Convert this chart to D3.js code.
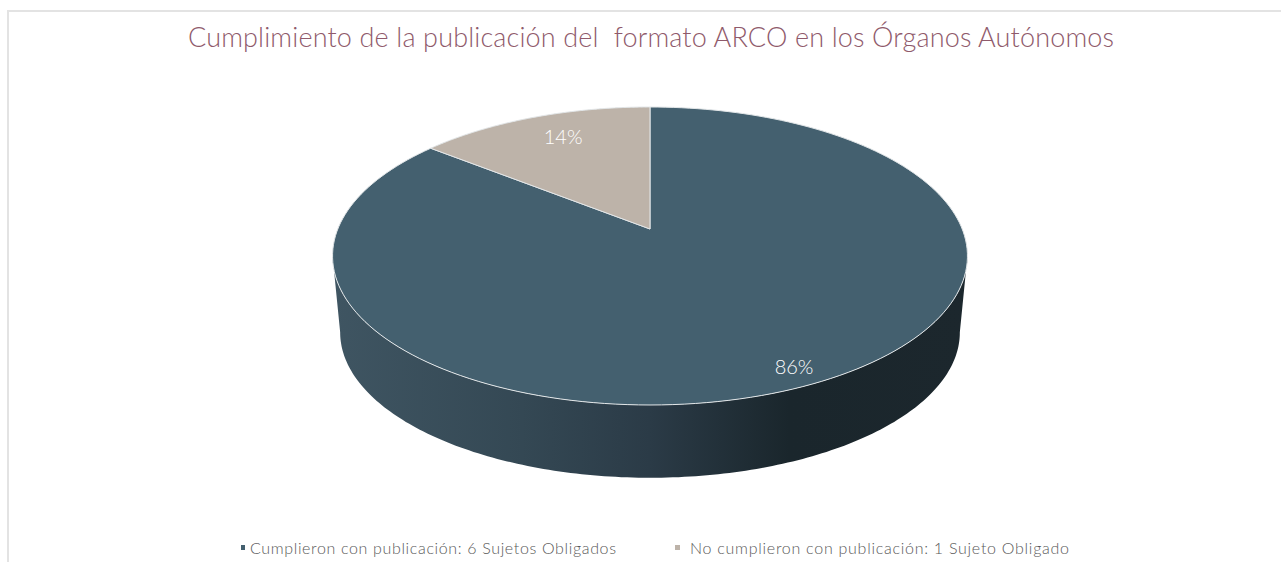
<!DOCTYPE html>
<html lang="es"><head><meta charset="utf-8">
<script src="https://cdnjs.cloudflare.com/ajax/libs/d3/7.8.5/d3.min.js"></script>
<style>html,body{margin:0;padding:0;background:#fff}svg{display:block}text{white-space:pre;font-family:"Lato","Open Sans",sans-serif}</style>
</head><body><svg id="c" width="1281" height="562"></svg>
<script>
const chartTitle = "Cumplimiento de la publicación del  formato ARCO en los Órganos Autónomos";
const categories = ["Cumplieron con publicación: 6 Sujetos Obligados", "No cumplieron con publicación: 1 Sujeto Obligado"];
const values = [6, 1];
const colors = ["#44606f", "#bdb3a9"];

const svg = d3.select("#c");
const W = 1281, persp = 0.1812;
const cx = 650, cy = 229, kx = 312.2, ky = 144.1;
const sx = d3.scaleLinear().domain([-1, 1]).range([cx - kx, cx + kx]);
const sy = d3.scaleLinear().domain([-1, 1]).range([cy - ky, cy + ky]);
// Perspective projection of a point on the disc (angle clockwise from 12 o'clock)
function project(a, r = 1, scale = 1, dy = 0) {
  const x = Math.sin(a) * r, y = -Math.cos(a) * r, s = scale / (1 - persp * y);
  return [sx(x * s), sy(y * s) + dy];
}
const pie = d3.pie().sort(null).value(d => d)(values);
const line = d3.line();
const arcPts = (a0, a1, ...rest) => d3.range(0, 181).map(i => project(a0 + (a1 - a0) * i / 180, 1, ...rest));

// frame
svg.append("path").attr("d", `M8,562V11H${W}`).attr("fill", "none").attr("stroke", "#e3e3e3").attr("stroke-width", 2);

// title
svg.append("text").attr("x", 651).attr("y", 47).attr("text-anchor", "middle")
  .attr("font-size", 27).attr("fill", "#8f5a6b").attr("textLength", 926).attr("lengthAdjust", "spacing")
  .attr("font-weight", 300).text(chartTitle);

// side wall, between the silhouette tangent points of the projected disc
const grad = svg.append("defs").append("linearGradient").attr("id", "side")
  .attr("gradientUnits", "userSpaceOnUse").attr("x1", 332).attr("x2", 967).attr("y1", 0).attr("y2", 0);
[[0, "#3f5562"], [0.3, "#344854"], [0.5, "#2b3b47"], [0.72, "#1a262c"], [1, "#1c272d"]]
  .forEach(([o, c]) => grad.append("stop").attr("offset", o).attr("stop-color", c));
const depthScale = 0.976, depthDy = 77;
const tangent = Math.asin(persp);
const frontStart = 0.5 * Math.PI + tangent, frontEnd = 1.5 * Math.PI - tangent;
const rimTop = arcPts(frontStart, frontEnd);
const rimLow = arcPts(frontStart, frontEnd, depthScale, depthDy).reverse();
svg.append("path").attr("d", line(rimTop.concat(rimLow)) + "Z").attr("fill", "url(#side)");

// top face
const seg = d => {
  const n = 180, pts = [project(0, 0)];
  d3.range(0, n + 1).forEach(i => pts.push(project(d.startAngle + (d.endAngle - d.startAngle) * i / n)));
  return line(pts) + "Z";
};
svg.append("g").selectAll("path").data(pie).join("path")
  .attr("d", seg).attr("fill", (d, i) => colors[i])
  .attr("stroke", "#e2e6e8").attr("stroke-width", 1).attr("stroke-linejoin", "round");

// data labels
const total = d3.sum(values);
const labelR = [0.906, 0.80], labelDx = [0, 9];
svg.append("g").selectAll("text").data(pie).join("text")
  .each(function (d, i) {
    const p = project((d.startAngle + d.endAngle) / 2, labelR[i]);
    d3.select(this).attr("x", p[0] + labelDx[i]).attr("y", p[1] + 7);
  })
  .attr("text-anchor", "middle").attr("font-size", 20).attr("fill", "#fff").attr("font-weight", 300)
  .text(d => d3.format(".0%")(d.value / total));

// legend
const legX = d3.scaleOrdinal().domain(categories).range([241, 675]);
const legW = d3.scaleOrdinal().domain(categories).range([366, 379]);
const leg = svg.append("g").selectAll("g").data(categories).join("g");
leg.append("rect").attr("x", d => legX(d)).attr("y", 545).attr("width", (d, i) => i ? 5 : 4).attr("height", 5)
  .attr("fill", (d, i) => colors[i]);
leg.append("text").attr("x", (d, i) => legX(d) + (i ? 15 : 9)).attr("y", 554)
  .attr("font-size", 16).attr("font-weight", 300).attr("fill", "#595959").attr("textLength", d => legW(d)).attr("lengthAdjust", "spacing").text(d => d);
</script></body></html>
